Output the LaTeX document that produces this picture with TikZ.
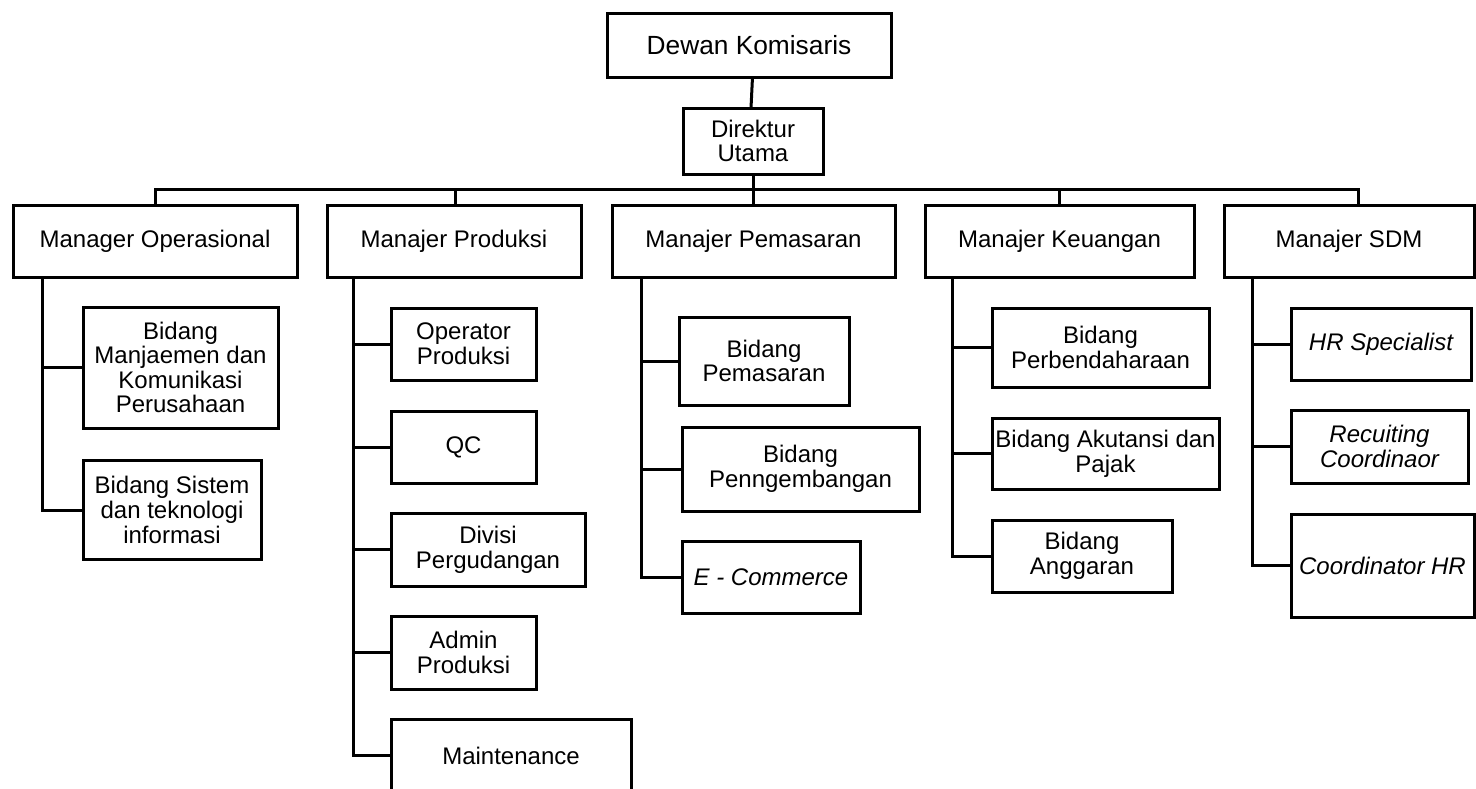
\documentclass[tikz,border=0pt]{standalone}
\usepackage{fontspec}
\setmainfont{Liberation Sans}
\usetikzlibrary{calc}
\tikzset{
  box/.style={draw, line width=3pt, inner sep=0pt, outer sep=0pt, align=center,
    font=\fontsize{24}{24.6}\selectfont},
  link/.style={line width=3pt},
}
\begin{document}
\begin{tikzpicture}[x=1pt,y=-1pt]
\useasboundingbox (0,0) rectangle (1476,788);
\clip (0,0) rectangle (1476,788);
% top
\node[box, minimum width=284, minimum height=64, font=\fontsize{26.3}{27}\selectfont] (dk) at (749,45) {Dewan Komisaris};
\node[box, minimum width=140, minimum height=66] (du) at (753,141) {Direktur\\Utama};
% managers
\node[box, minimum width=284, minimum height=72] (mo) at (155,241) {Manager Operasional};
\node[box, minimum width=254, minimum height=72] (mp) at (454,241) {Manajer Produksi};
\node[box, minimum width=283, minimum height=72] (mpm) at (753.5,241) {Manajer Pemasaran};
\node[box, minimum width=269, minimum height=72] (mk) at (1059.5,241) {Manajer Keuangan};
\node[box, minimum width=250, minimum height=72] (ms) at (1349,241) {Manajer SDM};
% operasional
\node[box, minimum width=195, minimum height=121] (bm1) at (180.5,367.5) {Bidang\\Manjaemen dan\\Komunikasi\\Perusahaan};
\node[box, minimum width=178, minimum height=99] (bm2) at (172,510) {Bidang Sistem\\dan teknologi\\informasi};
% produksi
\node[box, minimum width=145, minimum height=72] (op) at (463.5,344) {Operator\\Produksi};
\node[box, minimum width=145, minimum height=72] (qc) at (463.5,447) {QC};
\node[box, minimum width=194, minimum height=73] (dp) at (488,549.5) {Divisi\\Pergudangan};
\node[box, minimum width=145, minimum height=73] (ap) at (463.5,652.5) {Admin\\Produksi};
\node[box, minimum width=240, minimum height=73] (mt) at (511,755.5) {Maintenance};
% pemasaran
\node[box, minimum width=170, minimum height=88] (bp) at (764,361) {Bidang\\Pemasaran};
\node[box, minimum width=237, minimum height=84] (bpg) at (800.5,469) {Bidang\\Penngembangan};
\node[box, minimum width=178, minimum height=72] (ec) at (771,577) {\itshape E - Commerce};
% keuangan
\node[box, minimum width=217, minimum height=79] (bpb) at (1100.5,347.5) {Bidang\\Perbendaharaan};
\node[box, minimum width=227, minimum height=71] (bak) at (1105.5,453.5) {Bidang Akutansi dan\\Pajak};
\node[box, minimum width=180, minimum height=72] (ba) at (1082,556) {Bidang\\Anggaran};
% sdm
\node[box, minimum width=180, minimum height=72] (hr) at (1381,344) {\itshape HR Specialist};
\node[box, minimum width=177, minimum height=73] (rc) at (1379.5,446.5) {\itshape Recuiting\\\itshape Coordinaor};
\node[box, minimum width=183, minimum height=103] (ch) at (1382.5,565.5) {\itshape Coordinator HR};
% connectors top
\draw[link] ($(dk.south)+(3.5,0)$) -- ($(du.north)+(-2,0)$);
\coordinate (bus) at (753,189);
\coordinate (msd) at (1358,205);
\draw[link] (du.south) -- (bus);
\draw[link] (mo.north) |- (bus) -| (msd);
\draw[link] ($(mp.north)+(1,0)$) -- ($(mp.north |- bus)+(1,0)$);
\draw[link] (mpm.north) -- (mpm.north |- bus);
\draw[link] (mk.north) -- (mk.north |- bus);
% operasional tree
\coordinate (vo) at (42.7,277);
\draw[link] (vo) |- (bm2.west);
\draw[link] (vo |- bm1.west) -- (bm1.west);
% produksi tree
\coordinate (vp) at (353,277);
\draw[link] (vp) |- (mt.west);
\draw[link] (vp |- op.west) -- (op.west);
\draw[link] (vp |- qc.west) -- (qc.west);
\draw[link] (vp |- dp.west) -- (dp.west);
\draw[link] (vp |- ap.west) -- (ap.west);
% pemasaran tree
\coordinate (vm) at (641,277);
\draw[link] (vm) |- (ec.west);
\draw[link] (vm |- bp.west) -- (bp.west);
\draw[link] (vm |- bpg.west) -- (bpg.west);
% keuangan tree
\coordinate (vk) at (952,277);
\draw[link] (vk) |- (ba.west);
\draw[link] (vk |- bpb.west) -- (bpb.west);
\draw[link] (vk |- bak.west) -- (bak.west);
% sdm tree
\coordinate (vs) at (1252,277);
\draw[link] (vs) |- (ch.west);
\draw[link] (vs |- hr.west) -- (hr.west);
\draw[link] (vs |- rc.west) -- (rc.west);
\end{tikzpicture}
\end{document}
